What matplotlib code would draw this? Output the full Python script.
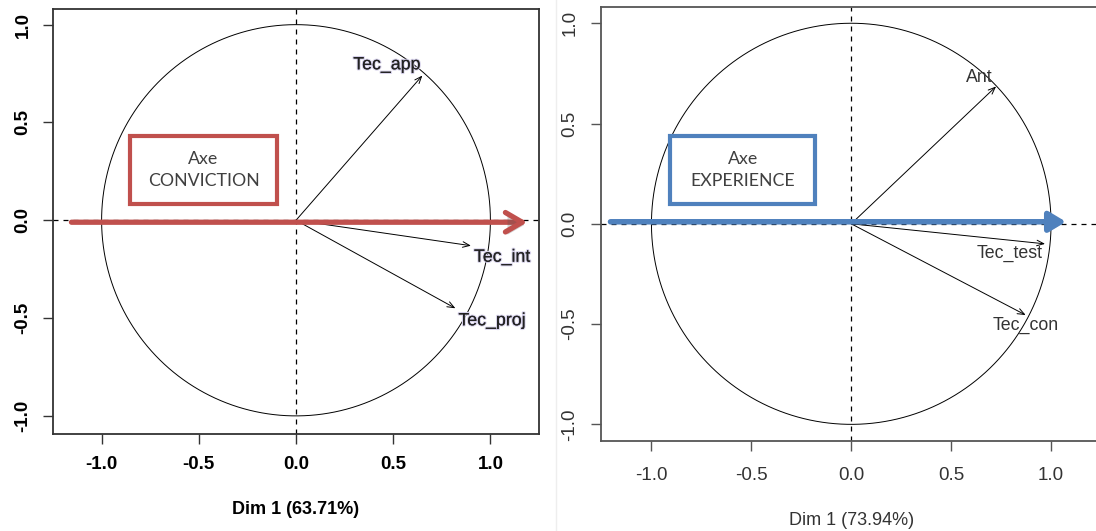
import numpy as np
import matplotlib
matplotlib.use("Agg")
import matplotlib.pyplot as plt
from matplotlib.patches import FancyArrowPatch, Rectangle
from matplotlib.lines import Line2D
import matplotlib.patheffects as pe

# variable coordinates on the correlation circles
left_vars = ["Tec_app", "Tec_int", "Tec_proj"]
left_x = [0.65, 0.90, 0.82]
left_y = [0.74, -0.13, -0.45]

right_vars = ["Ant", "Tec_test", "Tec_con"]
right_x = [0.725, 0.97, 0.873]
right_y = [0.685, -0.10, -0.455]

dim_pct = [63.71, 73.94]
axe_names = ["CONVICTION", "EXPERIENCE"]
ticks = [-1.0, -0.5, 0.0, 0.5, 1.0]

# label placement: (offset px, ha, va)
left_lab = [((-2, 2), "right", "bottom"), ((3, -3), "left", "top"), ((3, -4), "left", "top")]
right_lab = [((-4, 0), "right", "bottom"), ((-2, -1), "right", "top"), ((0, -2), "center", "top")]

fig = plt.figure(figsize=(10.96, 5.31), dpi=100)
fig.patch.set_facecolor("white")

axL = fig.add_axes([53 / 1096, 1 - 433.5 / 531, 486 / 1096, 424.5 / 531])
axR = fig.add_axes([601.5 / 1096, 1 - 441 / 531, 499.5 / 1096, 434.2 / 531])

th = np.linspace(0, 2 * np.pi, 400)


def base(ax, ylim, bold, tcol, fcol, pct, xpad, ypad):
    ax.set_xlim(-1.25, 1.25)
    ax.set_ylim(*ylim)
    ax.plot(np.cos(th), np.sin(th), color="black", lw=0.7)
    ax.axhline(0, color="black", lw=0.9, ls=(0, (4, 4)))
    ax.axvline(0, color="black", lw=0.9, ls=(0, (4, 4)))
    w = "bold" if bold else "normal"
    ax.set_xticks(ticks)
    ax.set_yticks(ticks)
    ax.set_xticklabels(["%.1f" % t for t in ticks], fontsize=13.5, fontweight=w,
                       color=tcol, family="Liberation Sans")
    ax.set_yticklabels(["%.1f" % t for t in ticks], fontsize=13.5, fontweight=w,
                       color=tcol, family="Liberation Sans", rotation=90, va="center")
    ax.tick_params(axis="x", length=7, width=1, color=fcol, pad=xpad)
    ax.tick_params(axis="y", length=7, width=1, color=fcol, pad=ypad)
    for s in ax.spines.values():
        s.set_color(fcol)
        s.set_linewidth(1.3)
    ax.set_xlabel("Dim 1 (%.2f%%)" % pct, fontsize=13, fontweight=w, color=tcol,
                  family="Liberation Sans", labelpad=20)


base(axL, (-1.09, 1.08), True, "black", "#333333", dim_pct[0], 9.5, 8.5)
base(axR, (-1.083, 1.082), False, "#333333", "#555555", dim_pct[1], 12, 9.5)

# variable arrows and labels
for ax, names, xs, ys, lab, halo in [(axL, left_vars, left_x, left_y, left_lab, True),
                                     (axR, right_vars, right_x, right_y, right_lab, False)]:
    for n, x, y, (off, ha, va) in zip(names, xs, ys, lab):
        ax.annotate("", xy=(x, y), xytext=(0, 0),
                    arrowprops=dict(arrowstyle="->,head_length=0.5,head_width=0.2",
                                    lw=0.7, color="black", shrinkA=0, shrinkB=0))
        t = ax.annotate(n, xy=(x, y), xytext=(off[0] * 0.72, off[1] * 0.72),
                        textcoords="offset points", ha=ha, va=va, fontsize=12.8,
                        family="Liberation Sans", color="#222222" if halo else "#333333")
        if halo:
            t.set_path_effects([pe.withStroke(linewidth=1.6, foreground="#d6d1ea"),
                                pe.Normal()])

# big axis arrows
red = "#c0504d"
blue = "#4f81bd"
arrL = FancyArrowPatch((-1.155, -0.01), (1.19, -0.01),
                       arrowstyle="->,head_length=12,head_width=7", color=red, lw=3.8,
                       shrinkA=0, shrinkB=0, zorder=5, capstyle="round", joinstyle="round")
arrL.set_path_effects([pe.SimplePatchShadow(offset=(1.5, -2), alpha=0.25), pe.Normal()])
axL.add_patch(arrL)

arrR = FancyArrowPatch((-1.205, 0.01), (1.075, 0.01),
                       arrowstyle="-|>,head_length=10,head_width=6", color=blue, lw=4.0,
                       shrinkA=0, shrinkB=0, zorder=5)
arrR.set_path_effects([pe.SimplePatchShadow(offset=(1, -1.5), alpha=0.25), pe.Normal()])
axR.add_patch(arrR)

# labelled boxes
for ax, (x0, x1, y0, y1), col, name in [(axL, (-0.853, -0.098, 0.082, 0.429), red, axe_names[0]),
                                        (axR, (-0.905, -0.18, 0.099, 0.438), blue, axe_names[1])]:
    ax.add_patch(Rectangle((x0, y0), x1 - x0, y1 - y0, facecolor="white",
                           edgecolor=col, lw=3, zorder=6))
    ax.text((x0 + x1) / 2, (y0 + y1) / 2, "Axe\n" + name, ha="center", va="center",
            fontsize=12.8, family="Lato", color="#404040", linespacing=1.45, zorder=7)

# faint separator between the two screenshots
fig.add_artist(Line2D([556 / 1096, 556 / 1096], [0, 1], color="#eeeeee", lw=1))

fig.savefig("out.png", dpi=100)
